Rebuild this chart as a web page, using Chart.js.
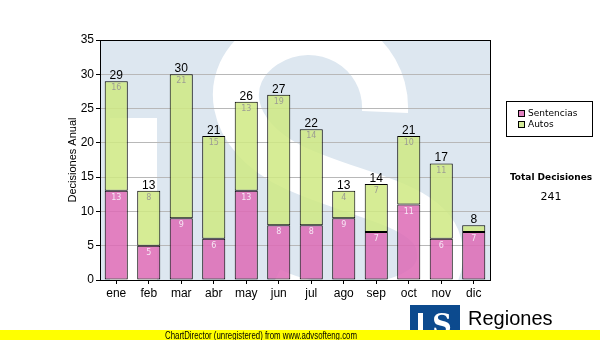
<!DOCTYPE html>
<html>
<head>
<meta charset="utf-8">
<script src="https://cdn.jsdelivr.net/npm/chart.js@4"></script>
<style>
  body { margin: 0; background: #fff; }
  #wrap { width: 600px; height: 340px; }
</style>
</head>
<body>
<div id="wrap"><canvas id="decisiones" width="600" height="340"></canvas></div>
<script>
const meses = ["ene", "feb", "mar", "abr", "may", "jun", "jul", "ago", "sep", "oct", "nov", "dic"];
const sentencias = [13, 5, 9, 6, 13, 8, 8, 9, 7, 11, 6, 7];
const autos = [16, 8, 21, 15, 13, 19, 14, 4, 7, 10, 11, 1];
const yTicks = [0, 5, 10, 15, 20, 25, 30, 35];

const totalDecisiones = sentencias.concat(autos).reduce((a, b) => a + b, 0);

// light "S" emblem behind the plot
const fondoPlot = {
  id: "fondoPlot",
  beforeDraw(chart) {
    const { ctx, chartArea: a } = chart;
    ctx.save();
    ctx.beginPath();
    ctx.rect(a.left, a.top, a.width, a.height);
    ctx.clip();
    ctx.fillStyle = "#dde7f0";
    ctx.fillRect(a.left, a.top, a.width, a.height);
    ctx.fillStyle = "#fff";
    ctx.fillRect(a.left + 10, a.top + 78, 47, 170);
    const x = a.left, y = a.top;
    ctx.strokeStyle = "#fff";
    ctx.lineWidth = 46;
    ctx.beginPath();
    ctx.moveTo(x + 285, y + 72);
    ctx.bezierCurveTo(x + 288, y + 10, x + 220, y - 30, x + 165, y + 5);
    ctx.bezierCurveTo(x + 120, y + 35, x + 125, y + 95, x + 195, y + 128);
    ctx.bezierCurveTo(x + 265, y + 160, x + 345, y + 165, x + 340, y + 220);
    ctx.bezierCurveTo(x + 335, y + 270, x + 230, y + 280, x + 170, y + 250);
    ctx.stroke();
    ctx.restore();
  }
};

// values inside segments, totals on top, frame, legend and footer
const extras = {
  id: "extras",
  afterDatasetsDraw(chart) {
    const { ctx, chartArea: a } = chart;
    ctx.save();
    ctx.textAlign = "center";

    chart.data.datasets.forEach((ds, i) => {
      const meta = chart.getDatasetMeta(i);
      meta.data.forEach((bar, j) => {
        if (Math.abs(bar.base - bar.y) < 12) return;
        ctx.font = "8px 'DejaVu Sans'";
        ctx.textBaseline = "top";
        ctx.fillStyle = i === 0 ? "#f6e6f4" : "#9c9c94";
        ctx.fillText(ds.data[j], bar.x, bar.y + 3);
      });
    });

    const top = chart.getDatasetMeta(1);
    top.data.forEach((bar, j) => {
      ctx.font = "12px 'Liberation Sans', Arial";
      ctx.textBaseline = "alphabetic";
      ctx.fillStyle = "#000";
      ctx.fillText(sentencias[j] + autos[j], bar.x, bar.y - 2);
    });

    ctx.strokeStyle = "#000";
    ctx.lineWidth = 1;
    ctx.strokeRect(Math.round(a.left) + 0.5, Math.round(a.top) + 0.5, Math.round(a.width), Math.round(a.height));

    // legend
    ctx.strokeRect(506.5, 101.5, 86, 35);
    ctx.textAlign = "left";
    ctx.textBaseline = "middle";
    ctx.font = "9px 'DejaVu Sans'";
    chart.data.datasets.forEach((ds, i) => {
      const yy = 110 + i * 11;
      ctx.fillStyle = ds.legendColor;
      ctx.fillRect(518, yy, 7, 7);
      ctx.strokeRect(518.5, yy + 0.5, 6, 6);
      ctx.fillStyle = "#000";
      ctx.fillText(ds.label, 528, yy + 4);
    });

    ctx.textAlign = "center";
    ctx.font = "bold 9px 'DejaVu Sans'";
    ctx.fillText("Total Decisiones", 551, 178);
    ctx.font = "11px 'DejaVu Sans'";
    ctx.fillText(String(totalDecisiones), 551, 197);

    // logo
    ctx.fillStyle = "#0c4a8e";
    ctx.fillRect(410, 305, 50, 35);
    ctx.fillStyle = "#fff";
    ctx.fillRect(418, 313, 5, 27);
    ctx.font = "bold 27px 'DejaVu Serif'";
    ctx.textBaseline = "alphabetic";
    ctx.fillText("S", 442, 334);
    ctx.fillStyle = "#000";
    ctx.textAlign = "left";
    ctx.font = "20px 'Liberation Sans', Arial";
    ctx.fillText("Regiones", 468, 325);
    ctx.font = "10px 'Liberation Sans', Arial";
    ctx.fillText("Tribunal Supremo de Justicia", 468, 338);

    ctx.fillStyle = "#ffff00";
    ctx.fillRect(0, 330, 600, 10);
    ctx.fillStyle = "#000";
    ctx.textAlign = "center";
    ctx.font = "10px 'Liberation Sans Narrow', 'Liberation Sans', Arial";
    ctx.fillText("ChartDirector (unregistered) from www.advsofteng.com", 261, 339, 192);
    ctx.restore();
  }
};

new Chart(document.getElementById("decisiones"), {
  type: "bar",
  data: {
    labels: meses,
    datasets: [
      {
        label: "Sentencias",
        data: sentencias,
        backgroundColor: "rgba(221,106,181,0.85)",
        legendColor: "#e080c0",
        borderColor: "#000",
        borderWidth: 1,
        borderSkipped: false,
        categoryPercentage: 1,
        barPercentage: 0.71
      },
      {
        label: "Autos",
        data: autos,
        backgroundColor: "rgba(207,233,131,0.85)",
        legendColor: "#d4ec98",
        borderColor: "#000",
        borderWidth: 1,
        borderSkipped: false,
        categoryPercentage: 1,
        barPercentage: 0.71
      }
    ]
  },
  options: {
    responsive: false,
    animation: false,
    layout: { padding: { left: 66, right: 110, top: 40, bottom: 0 } },
    plugins: { legend: { display: false }, tooltip: { enabled: false } },
    scales: {
      x: {
        stacked: true,
        grid: { drawOnChartArea: false, offset: false, tickColor: "#000", tickLength: 4 },
        border: { color: "#000" },
        ticks: { color: "#000", font: { family: "'Liberation Sans', Arial", size: 12 }, padding: 2, maxRotation: 0 },
        afterFit: (s) => { s.height = 60; }
      },
      y: {
        stacked: true,
        min: yTicks[0],
        max: yTicks[yTicks.length - 1],
        afterBuildTicks: (s) => { s.ticks = yTicks.map((v) => ({ value: v })); },
        grid: {
          color: (c) => (c.tick && (c.tick.value === 0 || c.tick.value === 35)) ? "rgba(0,0,0,0)" : "#b8b8b8",
          tickColor: "#000",
          tickLength: 4
        },
        border: { color: "#000" },
        ticks: { color: "#000", font: { family: "'Liberation Sans', Arial", size: 12 }, padding: 2 },
        title: { display: true, text: "Decisiones Anual", color: "#000", font: { family: "'Liberation Sans', Arial", size: 11 }, padding: 0 },
        afterFit: (s) => { s.width = 34; }
      }
    }
  },
  plugins: [fondoPlot, extras]
});
</script>
</body>
</html>
